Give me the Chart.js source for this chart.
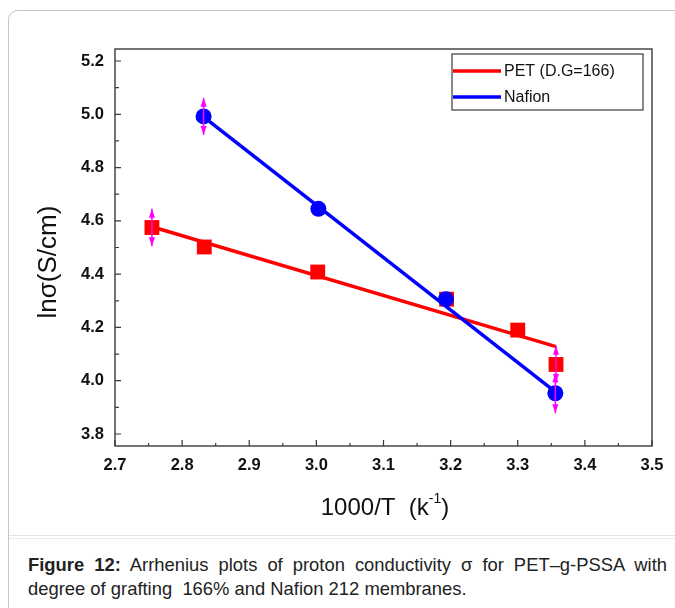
<!DOCTYPE html>
<html>
<head>
<meta charset="utf-8">
<script src="https://cdn.jsdelivr.net/npm/chart.js@4.4.1/dist/chart.umd.min.js"></script>
<style>
body{margin:0;background:#fff;width:675px;height:608px;overflow:hidden;position:relative;font-family:Arial,"Liberation Sans",sans-serif}
.frame{position:absolute;left:8px;top:10px;width:720px;height:640px;border:1px solid #c4c4c4;border-radius:10px}
.sep{position:absolute;left:9px;top:535px;width:680px;height:2px;border-top:1px solid #e2e2e2;border-bottom:1px solid #ececec}
#grafica{position:absolute;left:0;top:0}
.cap{position:absolute;left:28px;top:553px;width:639px;font-size:18.4px;line-height:24px;color:#222}
.l1{text-align:justify;text-align-last:justify;white-space:nowrap}
</style>
</head>
<body>
<div class="frame"></div>
<div class="sep"></div>
<canvas id="grafica" width="675" height="530"></canvas>
<div class="cap">
  <div class="l1"><b>Figure 12:</b> Arrhenius plots of proton conductivity σ for PET–g-PSSA with</div>
  <div>degree of grafting&nbsp; 166% and Nafion 212 membranes.</div>
</div>
<script>
// datos
const petX=[2.755,2.833,3.002,3.194,3.300,3.357];
const petY=[4.575,4.502,4.408,4.306,4.190,4.061];
const nafionX=[2.832,3.003,3.193,3.356];
const nafionY=[4.992,4.645,4.306,3.953];

// rectas de ajuste
const petAjusteX=[2.755,3.357];
const petAjusteY=[4.578,4.128];
const nafionAjusteX=[2.832,3.356];
const nafionAjusteY=[4.990,3.958];

// barras de error
const errX=[2.755,2.832,3.357,3.356];
const errY=[4.575,4.992,4.061,3.953];
const errTam=[0.07,0.07,0.07,0.075];

const xTicks=[2.7,2.8,2.9,3.0,3.1,3.2,3.3,3.4,3.5];
const yTicks=[3.8,4.0,4.2,4.4,4.6,4.8,5.0,5.2];

const puntos=(xs,ys)=>xs.map((x,i)=>({x:x,y:ys[i]}));

const fuenteTick={family:'Arial, "Liberation Sans"',size:16.5,weight:'bold'};

const extras={
  id:'extras',
  afterDatasetsDraw(chart){
    const {ctx,scales:{x,y}}=chart;
    ctx.save();
    ctx.strokeStyle='#ff00ff';
    ctx.fillStyle='#ff00ff';
    ctx.lineWidth=1.5;
    errX.forEach((v,i)=>{
      const px=x.getPixelForValue(v);
      const top=y.getPixelForValue(errY[i]+errTam[i]);
      const bot=y.getPixelForValue(errY[i]-errTam[i]);
      ctx.beginPath();
      ctx.moveTo(px,top);ctx.lineTo(px,bot);ctx.stroke();
      ctx.beginPath();
      ctx.moveTo(px,top);ctx.lineTo(px-3,top+9);ctx.lineTo(px+3,top+9);ctx.closePath();ctx.fill();
      ctx.beginPath();
      ctx.moveTo(px,bot);ctx.lineTo(px-3,bot-9);ctx.lineTo(px+3,bot-9);ctx.closePath();ctx.fill();
    });
    ctx.restore();
  },
  afterDraw(chart){
    const {ctx,chartArea:a,scales:{x,y}}=chart;
    ctx.save();
    //marco
    ctx.strokeStyle='#3a3a3a';
    ctx.lineWidth=1.4;
    ctx.strokeRect(a.left,a.top,a.right-a.left,a.bottom-a.top);

    //ticks hacia adentro
    ctx.lineWidth=1.2;
    ctx.beginPath();
    xTicks.forEach((v,i)=>{
      const px=x.getPixelForValue(v);
      ctx.moveTo(px,a.bottom);ctx.lineTo(px,a.bottom-6);
      if(i<xTicks.length-1){
        const pm=x.getPixelForValue((v+xTicks[i+1])/2);
        ctx.moveTo(pm,a.bottom);ctx.lineTo(pm,a.bottom-3);
      }
    });
    yTicks.forEach((v,i)=>{
      const py=y.getPixelForValue(v);
      ctx.moveTo(a.left,py);ctx.lineTo(a.left+6,py);
      if(i<yTicks.length-1){
        const pm=y.getPixelForValue((v+yTicks[i+1])/2);
        ctx.moveTo(a.left,pm);ctx.lineTo(a.left+4,pm);
      }
    });
    ctx.stroke();

    //leyenda
    ctx.strokeStyle='#3a3a3a';
    ctx.lineWidth=1.2;
    ctx.strokeRect(452,54,191,56);
    ctx.lineWidth=3.5;
    ctx.strokeStyle='#ff0000';
    ctx.beginPath();ctx.moveTo(453,71);ctx.lineTo(501,71);ctx.stroke();
    ctx.strokeStyle='#0000ff';
    ctx.beginPath();ctx.moveTo(453,97);ctx.lineTo(501,97);ctx.stroke();
    ctx.fillStyle='#111';
    ctx.font='16px Arial, "Liberation Sans"';
    ctx.textBaseline='middle';
    ctx.textAlign='left';
    ctx.fillText('PET (D.G=166)',504,72);
    ctx.fillText('Nafion',504,98);

    //titulo eje x
    ctx.textBaseline='alphabetic';
    ctx.font='24px Arial, "Liberation Sans"';
    const t1='1000/T  (k';
    const w1=ctx.measureText(t1).width;
    ctx.font='14px Arial, "Liberation Sans"';
    const w2=ctx.measureText('-1').width;
    ctx.font='24px Arial, "Liberation Sans"';
    const w3=ctx.measureText(')').width;
    let xi=385-(w1+w2+w3)/2;
    ctx.fillText(t1,xi,515);
    ctx.font='14px Arial, "Liberation Sans"';
    ctx.fillText('-1',xi+w1,503);
    ctx.font='24px Arial, "Liberation Sans"';
    ctx.fillText(')',xi+w1+w2,515);

    //titulo eje y
    ctx.translate(49,262);
    ctx.rotate(-Math.PI/2);
    ctx.textAlign='center';
    ctx.textBaseline='middle';
    ctx.font='26px Arial, "Liberation Sans"';
    ctx.fillText('lnσ(S/cm)',0,0);
    ctx.restore();
  }
};

const ctx=document.getElementById('grafica');

new Chart(ctx,{
  type:'scatter',
  data:{
    datasets:[
      {
        label:'Nafion',
        data:puntos(nafionAjusteX,nafionAjusteY),
        showLine:true,
        borderColor:'#0000ff',
        borderWidth:3.5,
        pointRadius:0,
        order:1
      },
      {
        label:'Nafion puntos',
        data:puntos(nafionX,nafionY),
        pointStyle:'circle',
        pointRadius:8,
        backgroundColor:'#0000ff',
        borderColor:'#0000ff',
        borderWidth:0,
        order:2
      },
      {
        label:'PET (D.G=166)',
        data:puntos(petAjusteX,petAjusteY),
        showLine:true,
        borderColor:'#ff0000',
        borderWidth:3.5,
        pointRadius:0,
        order:3
      },
      {
        label:'PET puntos',
        data:puntos(petX,petY),
        pointStyle:'rect',
        pointRadius:10.5,
        backgroundColor:'#ff0000',
        borderColor:'#ff0000',
        borderWidth:0,
        order:4
      }
    ]
  },
  options:{
    responsive:false,
    animation:false,
    devicePixelRatio:1,
    layout:{padding:{top:49,right:23,left:0,bottom:0}},
    plugins:{legend:{display:false},tooltip:{enabled:false}},
    scales:{
      x:{
        type:'linear',
        min:2.7,
        max:3.5,
        afterBuildTicks:s=>{s.ticks=xTicks.map(v=>({value:v}));},
        afterFit:s=>{s.height=84;},
        grid:{display:false,drawTicks:false},
        border:{display:false},
        ticks:{font:fuenteTick,color:'#111',padding:10,maxRotation:0,autoSkip:false,callback:v=>Number(v).toFixed(1)}
      },
      y:{
        type:'linear',
        min:3.755,
        max:5.245,
        afterBuildTicks:s=>{s.ticks=yTicks.map(v=>({value:v}));},
        afterFit:s=>{s.width=115;},
        grid:{display:false,drawTicks:false},
        border:{display:false},
        ticks:{font:fuenteTick,color:'#111',padding:11,autoSkip:false,callback:v=>Number(v).toFixed(1)}
      }
    }
  },
  plugins:[extras]
});
</script>
</body>
</html>
